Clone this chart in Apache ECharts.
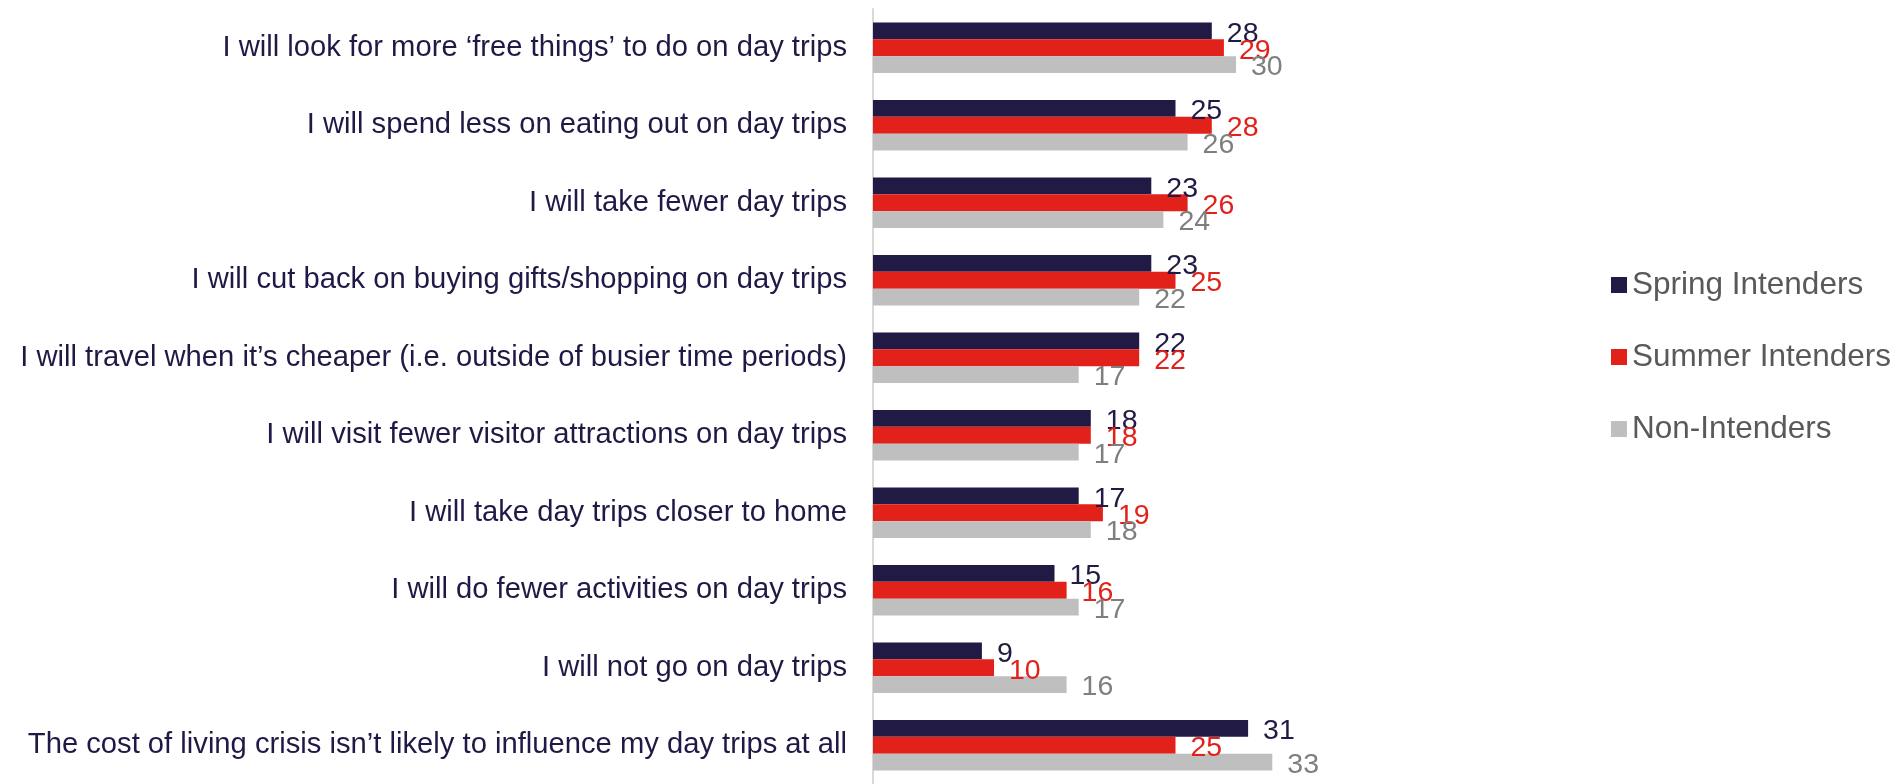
<!DOCTYPE html>
<html>
<head>
	<meta charset="utf-8">
	<title>Cost of living - day trips</title>
	<style type="text/css">
		html, body {
			margin: 0;
			padding: 0;
			background: #fff;
		}
		#chart {
			width: 1903px;
			height: 784px;
		}
	</style>
</head>
<body>
	<div id="chart"></div>

	<script src="https://cdn.jsdelivr.net/npm/echarts@6/dist/echarts.min.js"></script>
	<script type="text/javascript">
	const CATEGORIES = [
		'I will look for more \u2018free things\u2019 to do on day trips',
		'I will spend less on eating out on day trips',
		'I will take fewer day trips',
		'I will cut back on buying gifts/shopping on day trips',
		'I will travel when it\u2019s cheaper (i.e. outside of busier time periods)',
		'I will visit fewer visitor attractions on day trips',
		'I will take day trips closer to home',
		'I will do fewer activities on day trips',
		'I will not go on day trips',
		'The cost of living crisis isn\u2019t likely to influence my day trips at all'
	];
	const SPRING = [28, 25, 23, 23, 22, 18, 17, 15, 9, 31];
	const SUMMER = [29, 28, 26, 25, 22, 18, 19, 16, 10, 25];
	const NON_INTENDERS = [30, 26, 24, 22, 17, 17, 18, 17, 16, 33];

	const TXT = {
		SPRING: 'Spring Intenders',
		SUMMER: 'Summer Intenders',
		NON: 'Non-Intenders'
	};

	const FONT = 'Arial, "Liberation Sans", sans-serif';

	function makeSeries(name, data, barColor, labelColor) {
		return {
			name: name,
			type: 'bar',
			data: data,
			barGap: '0%',
			barCategoryGap: '35%',
			itemStyle: { color: barColor },
			label: {
				show: true,
				position: 'right',
				distance: 15,
				offset: [0, 3],
				color: labelColor,
				fontSize: 28.5,
				fontFamily: FONT
			}
		};
	}

	var myChart = echarts.init(document.getElementById('chart'));

	var option = {
		animation: false,
		legend: {
			orient: 'vertical',
			left: 1606,
			top: 264,
			itemWidth: 16,
			itemHeight: 16,
			itemGap: 40,
			icon: 'rect',
			textStyle: {
				color: '#595959',
				fontSize: 31.5,
				fontFamily: FONT
			},
			data: [TXT.SPRING, TXT.SUMMER, TXT.NON]
		},
		grid: {
			left: 873,
			top: 9,
			width: 605,
			height: 779
		},
		xAxis: {
			type: 'value',
			min: 0,
			max: 50,
			show: false
		},
		yAxis: {
			type: 'category',
			inverse: true,
			data: CATEGORIES,
			axisLine: { lineStyle: { color: '#d9d9d9', width: 2 } },
			axisTick: { show: false },
			axisLabel: {
				margin: 26,
				padding: [10, 0, 0, 0],
				color: '#1f1a45',
				fontSize: 29.2,
				fontFamily: FONT
			}
		},
		series: [
			makeSeries(TXT.SPRING, SPRING, '#211a45', '#211a45'),
			makeSeries(TXT.SUMMER, SUMMER, '#e2211a', '#e2211a'),
			makeSeries(TXT.NON, NON_INTENDERS, '#bfbfbf', '#7f7f7f')
		]
	};

	myChart.setOption(option);
	</script>
</body>
</html>
